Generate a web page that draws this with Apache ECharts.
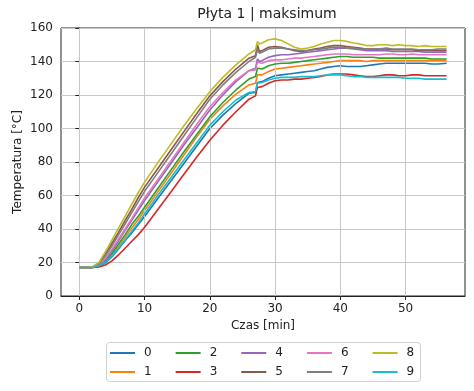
<!DOCTYPE html>
<html>
<head>
<meta charset="utf-8">
<script src="https://cdn.jsdelivr.net/npm/echarts@6/dist/echarts.min.js"></script>
<style>
html,body{margin:0;padding:0;background:#fff;}
#chart{width:474px;height:391px;}
</style>
</head>
<body>
<div id="chart"></div>
<script>
const titleText = 'Płyta 1 | maksimum';
const xLabel = 'Czas [min]';
const yLabel = 'Temperatura [°C]';
const seriesNames = ['0','1','2','3','4','5','6','7','8','9'];
const colors = ['#1f77b4','#ff7f0e','#2ca02c','#d62728','#9467bd','#8c564b','#e377c2','#7f7f7f','#bcbd22','#17becf'];
const xTicks = [0,10,20,30,40,50];

const times = [0,1,2,3,4,5,6,7,8,9,10,12,14,16,18,20,22,24,26,27,27.3,27.6,28,29,30,31,32,33,34,35,36,37,38,39,40,41,42,43,44,45,46,47,48,49,50,51,52,53,54,55,56.3];

const s0 = [17,17,17,17.8,19.7,23.5,28,33,37.5,42.5,47.5,58,68.5,79,89.5,100,108,115,121,121.5,127.5,126.5,128,130,131.5,132,132.5,133,133.5,134,134.5,135.5,136.5,137,137.5,137,137,137,137.5,138,138.5,139,139,139,139,139,139,139,138.5,138.5,139];
const s1 = [17,17,17,18,20.5,24.5,29.5,35,40.5,45.5,51,62,73,84,95,105.5,113.5,120.5,126,127,132,131,132,134,135.5,136,136.5,137,137.5,138,138.5,139,139.5,140,140.5,140.5,140.5,140.5,140,140.5,140.5,140.5,140.5,140.5,140.5,140.5,140.5,140.5,140.5,140.5,140.5];
const s2 = [17,17,17,18,21,25.5,31,36.5,42.5,47.5,53,64,75,86,96.5,107,115.5,123,129.5,131,136,135,135.5,137.5,138.5,139,139,139.5,140,140.5,141,141.5,142,142.5,143,143,142.5,142.5,142.5,142.5,142,142,142,142,142,142,142,142,141.5,141.5,141.5];
const s3 = [17,17,17,17.3,18.5,21,24.5,28.5,32.5,36.5,41,51.5,62,72.5,83,93,102,110,117.5,119.5,124.5,124,125,127,128.5,129,129,129.5,129.5,130,130.5,131,132,132.5,132.5,132.5,132,131.5,131,131,131.5,132,132,131.5,131.5,132,132,131.5,131.5,131.5,131.5];
const s4 = [17,17,17,18.5,22,27,33,39,45,51,57,68,79,90,100.5,111,120,128,134.5,136,141.5,140,140.5,142.5,143.5,144,144,144.5,145,145.5,146,146.5,147,147.5,148,148,147.5,147,146.5,146.5,146.5,146.5,146,146,146,146,146,145.5,145.5,145.5,145.5];
const s5 = [17,17,17.2,19.5,25,31.5,38,45,51.5,58.5,65,76,87,98,109,119.5,128,135.5,142,143.5,150,146,146.5,148.5,149,148.5,147.5,146.5,146,146.5,147.5,148,149,149.5,149.5,149,148.5,148,147.5,147.5,147.5,147.5,147,147,147,147,146.5,146.5,146.5,146.5,146.5];
const s6 = [17,17,17,18.5,22.5,28,34,40,46,52.5,58.5,69.5,80.5,91.5,102.5,113,121.5,129,134.5,135,139.5,138.5,139,140.5,141,141,141.5,142,142,142.5,143,143.5,144,144.5,144.5,144.5,144,144,144,144,144,144.5,144.5,144,144,144.5,144,144,144,144,144];
const s7 = [17,17,17.2,19,24,30,36.5,43,49.5,56,62.5,73.5,84.5,95.5,106.5,117.5,126,133.5,140,142.5,147,145,145.5,147.5,148,148,147.5,147,146.5,146.5,147,147.5,148,148.5,148.5,148,148,147.5,147.5,147.5,147.5,148,147.5,147.5,147.5,147.5,147,147,147,147.5,147.5];
const s8 = [17,17,17.5,20,26.5,33.5,40.5,47.5,54.5,61.5,68,79.5,90.5,101.5,112,122,130.5,138,144.5,147,152,150.5,151,153,153.5,152.5,150.5,148.5,147.5,148,149,150.5,151.5,152.5,152.5,152,151,150.5,149.5,149.5,150,150,149.5,150,149.5,149.5,149,149.5,149,149,149];
const s9 = [17,17,17,18,20,24,28.5,33.5,38.5,43.5,49,60,70.5,81,91.5,102,110,117,121.5,122,127,126,127.5,129,130,130.5,130.5,130.5,131,131,131,131.5,132,132,132,131.5,131,131,130.5,130.5,130.5,130.5,130.5,130.5,130,130,130,129.5,129.5,129.5,129.5];

const allValues = [s0,s1,s2,s3,s4,s5,s6,s7,s8,s9];

const font = 'DejaVu Sans';
const chart = echarts.init(document.getElementById('chart'), null, {renderer:'canvas'});

const series = seriesNames.map((name, i) => ({
  name: name,
  type: 'line',
  data: times.map((t, k) => [t, allValues[i][k]]),
  showSymbol: false,
  symbol: 'none',
  lineStyle: {width: 1.6, color: colors[i]},
  itemStyle: {color: colors[i]},
  z: 3 + i,
  animation: false
}));

series.unshift({
  name: 'xgrid',
  type: 'line',
  data: [],
  z: 1,
  silent: true,
  markLine: {
    silent: true,
    symbol: ['none','none'],
    animation: false,
    label: {show: false},
    lineStyle: {color: '#c8c8c8', width: 1, type: 'solid'},
    emphasis: {disabled: true},
    data: xTicks.map(v => ({xAxis: v}))
  }
});

const legendCommon = {
  orient: 'horizontal',
  icon: 'rect',
  itemWidth: 25,
  itemHeight: 2,
  itemGap: 24,
  padding: 0,
  textStyle: {fontFamily: font, fontSize: 12, color: '#222', padding: [0,0,0,4]},
  selectedMode: false
};

chart.setOption({
  animation: false,
  color: colors,
  title: {
    text: titleText,
    left: 262,
    top: 2,
    textAlign: 'center',
    textStyle: {fontFamily: font, fontSize: 14, fontWeight: 'normal', color: '#222'}
  },
  grid: {
    left: 61, right: 9, top: 28, bottom: 95,
    show: true, borderColor: '#222', borderWidth: 1, backgroundColor: '#fff'
  },
  legend: [
    Object.assign({}, legendCommon, {data: ['0','2','4','6','8'], left: 110, top: 347}),
    Object.assign({}, legendCommon, {data: ['1','3','5','7','9'], left: 110, top: 366})
  ],
  graphic: [{
    type: 'rect',
    shape: {x: 106.5, y: 342.5, width: 314, height: 39, r: 3},
    style: {fill: 'none', stroke: '#d0d0d0', lineWidth: 1},
    z: -1
  }],
  xAxis: {
    type: 'value',
    min: -2.815, max: 59.115,
    name: xLabel,
    nameLocation: 'middle',
    nameGap: 24,
    nameMoveOverlap: false,
    nameTextStyle: {fontFamily: font, fontSize: 12, color: '#222'},
    axisLine: {show: true, onZero: false, lineStyle: {color: '#222', width: 1}},
    axisTick: {show: true, length: 4, inside: false, customValues: xTicks, lineStyle: {color: '#222'}},
    axisLabel: {customValues: xTicks, fontFamily: font, fontSize: 12, color: '#222', margin: 7, showMinLabel: true, showMaxLabel: true},
    splitLine: {show: false}
  },
  yAxis: {
    type: 'value',
    min: 0, max: 160, interval: 20,
    name: yLabel,
    nameLocation: 'middle',
    nameGap: 37,
    nameMoveOverlap: false,
    nameTextStyle: {fontFamily: font, fontSize: 12, color: '#222'},
    axisLine: {show: true, lineStyle: {color: '#222', width: 1}},
    axisTick: {show: true, length: 4, inside: false, lineStyle: {color: '#222'}},
    axisLabel: {fontFamily: font, fontSize: 12, color: '#222', margin: 8},
    splitLine: {show: true, lineStyle: {color: '#c8c8c8', width: 1}}
  },
  series: series
});
</script>
</body>
</html>
